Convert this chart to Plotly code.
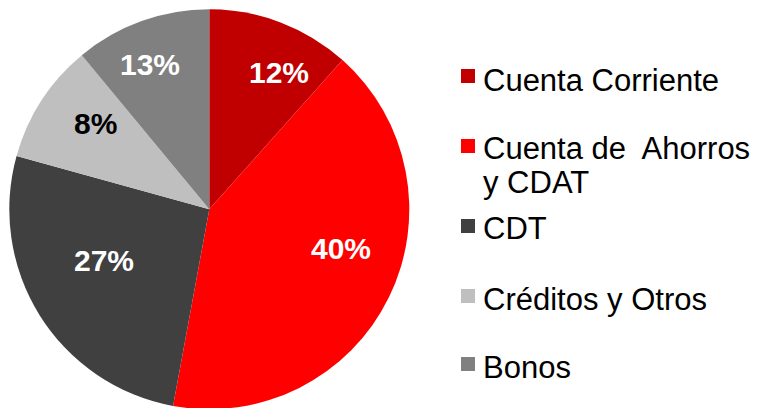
import plotly.graph_objects as go

# datos
categorias = ["Cuenta Corriente", "Cuenta de  Ahorros<br>y CDAT", "CDT",
              "Créditos y Otros", "Bonos"]
participacion = [11.6, 41.3, 26.4, 9.7, 11.0]
etiquetas = ["12%", "40%", "27%", "8%", "13%"]

colores = ["#C00000", "#FF0000", "#404040", "#BFBFBF", "#808080"]
color_texto = ["white", "white", "white", "black", "white"]
FUENTE = '"Liberation Sans", Arial, sans-serif'

W, H = 761, 408
# la pagina html deja 8px de margen en el body
OFF = 8

# centro y radio de la torta (pixeles de la ventana)
CX, CY, R = 209.3 - OFF, 209.3 - OFF, 200

# posicion de las etiquetas de porcentaje (pixeles de la ventana)
pos_etiquetas = [(279, 72.5), (341.3, 248), (104.3, 260), (95, 123.3), (149.5, 64.7)]

# leyenda: centro del cuadro y centro de cada linea de texto
leyenda_cuadro = [76, 146, 226, 296, 364]
leyenda_texto = [[80], [148, 182.5], [229], [299], [367]]


def px(x):
    return (x - OFF) / W


def py(y):
    return 1 - (y - OFF) / H


fig = go.Figure()
fig.add_trace(go.Pie(
    labels=categorias,
    values=participacion,
    textinfo="none",
    marker=dict(colors=colores, line=dict(width=0)),
    sort=False,
    direction="clockwise",
    domain=dict(x=[(CX - R) / W, (CX + R) / W],
                y=[1 - (CY + R) / H, 1 - (CY - R) / H]),
    showlegend=False,
    hoverinfo="label+percent",
))

for txt, col, (x, y) in zip(etiquetas, color_texto, pos_etiquetas):
    fig.add_annotation(text=txt, xref="paper", yref="paper", x=px(x), y=py(y),
                       xanchor="center", yanchor="middle", showarrow=False,
                       font=dict(family=FUENTE, size=30, color=col, weight="bold"))

# leyenda dibujada a mano (espaciado irregular como en el original)
for nombre, col, yc, lineas_y in zip(categorias, colores, leyenda_cuadro, leyenda_texto):
    fig.add_shape(type="rect", xref="paper", yref="paper",
                  x0=px(461), x1=px(475), y0=py(yc + 7), y1=py(yc - 7),
                  fillcolor=col, line=dict(width=0))
    for linea, yl in zip(nombre.split("<br>"), lineas_y):
        fig.add_annotation(text=linea, xref="paper", yref="paper",
                           x=px(482), y=py(yl), xanchor="left", yanchor="middle",
                           align="left", showarrow=False, borderpad=0,
                           font=dict(family=FUENTE, size=31, color="black"))

fig.update_layout(
    width=W, height=H,
    margin=dict(l=0, r=0, t=0, b=0),
    paper_bgcolor="white",
    plot_bgcolor="white",
)

fig.write_html("out.html")
